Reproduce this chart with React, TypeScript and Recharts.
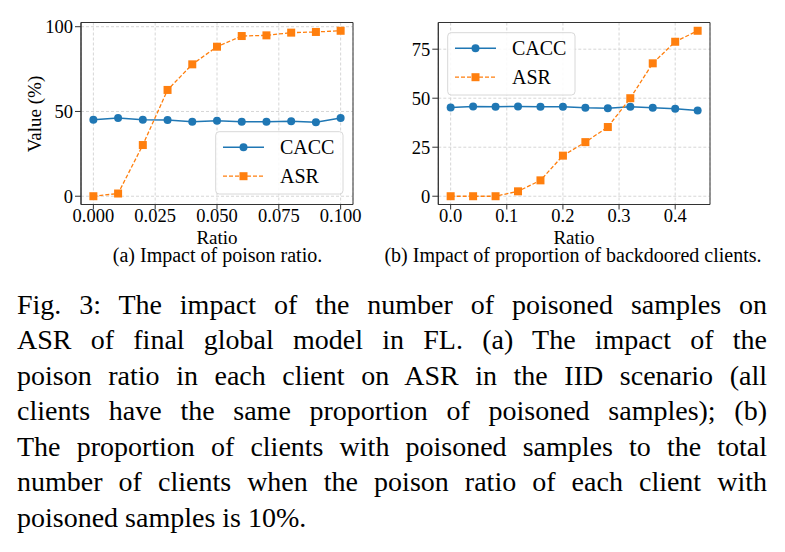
import React from 'react';
import { LineChart, Line, XAxis, YAxis, CartesianGrid, ReferenceArea } from 'recharts';

const FONT = 'Liberation Serif';
const BLUE = '#1f77b4';
const ORANGE = '#ff7f0e';
const SPINE = '#333333';
const GRID = '#d6d6d6';

// (a) poison ratio inside each client
const ratioA = [0, 0.01, 0.02, 0.03, 0.04, 0.05, 0.06, 0.07, 0.08, 0.09, 0.1];
const caccA = [45.1, 46.1, 45.1, 44.9, 43.9, 44.5, 43.9, 43.9, 44.3, 43.7, 46.1];
const asrA = [0, 1.6, 30.2, 62.7, 77.8, 88.2, 94.5, 94.9, 96.5, 96.9, 97.6];
const xTicksA = [0, 0.025, 0.05, 0.075, 0.1];
const yTicksA = [0, 50, 100];

// (b) share of backdoored clients
const ratioB = [0, 0.04, 0.08, 0.12, 0.16, 0.2, 0.24, 0.28, 0.32, 0.36, 0.4, 0.44];
const caccB = [45.3, 45.8, 45.6, 45.8, 45.6, 45.6, 45.1, 44.9, 45.6, 45.1, 44.6, 43.7];
const asrB = [0, 0, 0, 2.5, 8.1, 20.7, 27.6, 35.3, 50.0, 67.8, 78.8, 84.4];
const xTicksB = [0, 0.1, 0.2, 0.3, 0.4];
const yTicksB = [0, 25, 50, 75];

const seriesNames = ['CACC', 'ASR'];
const subcaptions = ['(a) Impact of poison ratio.', '(b) Impact of proportion of backdoored clients.'];
const axisLabels = { x: 'Ratio', y: 'Value (%)' };

const captionLines = [
  'Fig. 3: The impact of the number of poisoned samples on',
  'ASR of final global model in FL. (a) The impact of the',
  'poison ratio in each client on ASR in the IID scenario (all',
  'clients have the same proportion of poisoned samples); (b)',
  'The proportion of clients with poisoned samples to the total',
  'number of clients when the poison ratio of each client with',
  'poisoned samples is 10%.',
];

// layout
const CHART_H = 240;
const PLOT_TOP = 22.5;
const PLOT_BOTTOM = 204.5;
const XAXIS_H = 30;
const YAXIS_W = 50;
const TICK_FS = 18.5;

// 5% padding on each side, like matplotlib's default autoscale margins
function padded(values: number[]): [number, number] {
  const lo = Math.min(...values);
  const hi = Math.max(...values);
  const m = (hi - lo) * 0.05;
  return [lo - m, hi + m];
}

const SquareDot = (props: any) => {
  const { cx, cy, index } = props;
  if (cx == null || cy == null) return <g key={`sq-${index}`} />;
  return <rect key={`sq-${index}`} x={cx - 4} y={cy - 4} width={8} height={8} fill={ORANGE} />;
};

type PanelProps = {
  left: number;
  width: number;
  plotLeft: number;
  plotRight: number;
  xs: number[];
  cacc: number[];
  asr: number[];
  xTicks: number[];
  yTicks: number[];
  digits: number;
};

function Panel({ left, width, plotLeft, plotRight, xs, cacc, asr, xTicks, yTicks, digits }: PanelProps) {
  const rows = xs.map((x, i) => ({ ratio: x, cacc: cacc[i], asr: asr[i] }));
  const xDomain = padded(xs);
  const yDomain = padded([...cacc, ...asr]);
  const tickStyle = { fontFamily: FONT, fontSize: TICK_FS, fill: '#000' };
  return (
    <div style={{ position: 'absolute', left, top: 0, fontFamily: FONT }}>
      <LineChart
        width={width}
        height={CHART_H}
        data={rows}
        style={{ fontFamily: FONT }}
        margin={{
          top: PLOT_TOP,
          right: width - plotRight,
          bottom: CHART_H - PLOT_BOTTOM - XAXIS_H,
          left: plotLeft - YAXIS_W,
        }}
      >
        <CartesianGrid stroke={GRID} strokeDasharray="3 2" />
        <XAxis
          dataKey="ratio"
          type="number"
          domain={xDomain}
          ticks={xTicks}
          allowDataOverflow
          height={XAXIS_H}
          tickFormatter={(v: number) => v.toFixed(digits)}
          tick={tickStyle}
          tickSize={5}
          tickMargin={-1}
          stroke={SPINE}
        />
        <YAxis
          type="number"
          domain={yDomain}
          ticks={yTicks}
          allowDataOverflow
          width={YAXIS_W}
          tick={tickStyle}
          tickSize={6}
          tickMargin={2}
          stroke={SPINE}
        />
        <ReferenceArea
          x1={xDomain[0]}
          x2={xDomain[1]}
          y1={yDomain[0]}
          y2={yDomain[1]}
          fill="none"
          stroke={SPINE}
          strokeWidth={1}
          ifOverflow="visible"
        />
        <Line
          dataKey="cacc"
          name={seriesNames[0]}
          stroke={BLUE}
          strokeWidth={1.5}
          dot={{ r: 4, fill: BLUE, stroke: BLUE, strokeWidth: 0 }}
          isAnimationActive={false}
        />
        <Line
          dataKey="asr"
          name={seriesNames[1]}
          stroke={ORANGE}
          strokeWidth={1.3}
          strokeDasharray="4 2"
          dot={SquareDot}
          isAnimationActive={false}
        />
      </LineChart>
    </div>
  );
}

function LegendBox({ x, y }: { x: number; y: number }) {
  const r1 = y + 15.5;
  const r2 = y + 44.5;
  return (
    <g>
      <rect x={x} y={y} width={127.3} height={62.3} rx={3.5} fill="#ffffff" fillOpacity={0.85} stroke="#d8d8d8" />
      <line x1={x + 7.3} x2={x + 48.3} y1={r1} y2={r1} stroke={BLUE} strokeWidth={1.5} />
      <circle cx={x + 27.8} cy={r1} r={4} fill={BLUE} />
      <text x={x + 64.3} y={r1 + 6.6} fontSize={20} style={{ fontFamily: FONT }} fill="#000">{seriesNames[0]}</text>
      <line x1={x + 7.3} x2={x + 48.3} y1={r2} y2={r2} stroke={ORANGE} strokeWidth={1.3} strokeDasharray="4 2" />
      <rect x={x + 23.8} y={r2 - 4} width={8} height={8} fill={ORANGE} />
      <text x={x + 64.3} y={r2 + 6.6} fontSize={20} style={{ fontFamily: FONT }} fill="#000">{seriesNames[1]}</text>
    </g>
  );
}

export default function App() {
  const textStyle = { fontFamily: FONT };
  return (
    <div style={{ position: 'absolute', left: 0, top: 0, width: 785, height: 552, background: '#fff', fontFamily: FONT }}>
      <Panel left={0} width={380} plotLeft={81} plotRight={353} xs={ratioA} cacc={caccA} asr={asrA} xTicks={xTicksA} yTicks={yTicksA} digits={3} />
      <Panel left={380} width={405} plotLeft={58.3} plotRight={330} xs={ratioB} cacc={caccB} asr={asrB} xTicks={xTicksB} yTicks={yTicksB} digits={1} />
      <svg width={785} height={270} style={{ position: 'absolute', left: 0, top: 0, pointerEvents: 'none', fontFamily: FONT }}>
        <text
          x={0}
          y={0}
          transform="translate(40.5 114) rotate(-90)"
          textAnchor="middle"
          fontSize={19}
          style={textStyle}
          fill="#000"
        >
          {axisLabels.y}
        </text>
        <text x={217} y={244} textAnchor="middle" fontSize={19} style={textStyle} fill="#000">{axisLabels.x}</text>
        <text x={574} y={244} textAnchor="middle" fontSize={19} style={textStyle} fill="#000">{axisLabels.x}</text>
        <text x={217.5} y={261.5} textAnchor="middle" fontSize={20} style={textStyle} fill="#000">{subcaptions[0]}</text>
        <text x={573} y={261.5} textAnchor="middle" fontSize={20} style={textStyle} fill="#000">{subcaptions[1]}</text>
        <LegendBox x={215.7} y={131.7} />
        <LegendBox x={447.7} y={32.7} />
      </svg>
      <div style={{ position: 'absolute', left: 17, top: 286.8, width: 750, fontSize: 28, lineHeight: '35.5px', color: '#000', fontFamily: FONT }}>
        {captionLines.map((line, i) => (
          <div
            key={i}
            style={{
              textAlign: i === captionLines.length - 1 ? 'left' : 'justify',
              textAlignLast: i === captionLines.length - 1 ? 'left' : 'justify',
            } as React.CSSProperties}
          >
            {line}
          </div>
        ))}
      </div>
    </div>
  );
}
